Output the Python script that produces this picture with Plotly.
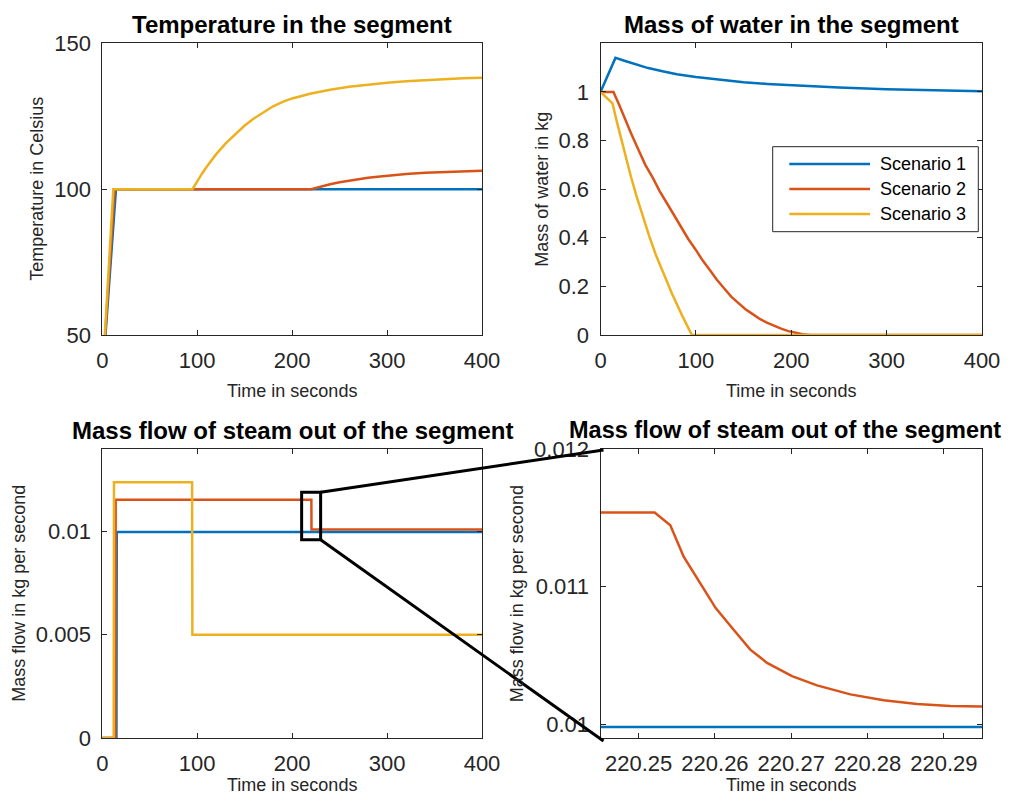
import plotly.graph_objects as go

W, H = 1016, 805          # browser window
PAGE_MARGIN = 8           # default body margin of the html page
FIG_W, FIG_H = W - 2 * PAGE_MARGIN, H - 2 * PAGE_MARGIN
COLORS = ["#0072BD", "#D95319", "#EDB120"]
scenarios = ["Scenario 1", "Scenario 2", "Scenario 3"]

# ---------------- data ----------------
# Temperature in the segment (Celsius)
temp_t1 = [0, 14.4, 400]
temp_v1 = [35, 100, 100]
temp_t2 = [0, 13.0, 220, 230, 240, 250, 260, 270, 280, 290, 300, 320, 340, 360, 380, 400]
temp_v2 = [35, 100, 100, 100.9, 101.7, 102.35, 102.9, 103.4, 103.9, 104.25, 104.6, 105.2, 105.6,
           105.9, 106.1, 106.3]
temp_t3 = [0, 11.6, 95, 100, 105, 110, 115, 120, 130, 140, 150, 160, 170, 180, 190, 200, 220, 240,
           260, 280, 300, 320, 340, 360, 380, 400]
temp_v3 = [35, 100, 100, 102.8, 105.3, 107.7, 109.9, 112.0, 115.7, 118.9, 121.8, 124.3, 126.5,
           128.4, 129.9, 131.1, 132.8, 134.1, 135.1, 135.9, 136.5, 137.0, 137.4, 137.75, 138.0, 138.2]

# Mass of water in the segment (kg)
mass_t1 = [0, 15.7, 25, 35, 50, 65, 80, 100, 125, 150, 175, 200, 250, 300, 350, 400]
mass_v1 = [1.0, 1.14, 1.128, 1.115, 1.098, 1.085, 1.073, 1.061, 1.049, 1.040, 1.033, 1.027, 1.018,
           1.011, 1.006, 1.003]
mass_t2 = [0, 13.6, 20, 25, 32, 40, 47, 55, 62, 70, 77, 85, 92, 100, 107, 115, 122, 130, 137, 145,
           152, 160, 167, 175, 182, 190, 197, 205, 212, 220, 400]
mass_v2 = [1.0, 1.0, 0.943, 0.895, 0.83, 0.76, 0.70, 0.645, 0.592, 0.54, 0.492, 0.44, 0.395, 0.35,
           0.307, 0.265, 0.227, 0.19, 0.158, 0.13, 0.106, 0.085, 0.066, 0.05, 0.037, 0.025, 0.016,
           0.008, 0.003, 0.0, 0.0]
mass_t3 = [0, 12.6, 17, 22, 27, 32, 38, 44, 51, 58, 66, 75, 85, 95.8, 400]
mass_v3 = [1.0, 0.953, 0.88, 0.80, 0.723, 0.65, 0.568, 0.49, 0.408, 0.33, 0.251, 0.17, 0.085, 0.0, 0.0]

# Mass flow of steam out of the segment (kg/s)
flow_t1 = [0, 14.9, 15.2, 400]
flow_v1 = [0, 0, 0.00998, 0.00998]
flow_t2 = [0, 13.8, 14.1, 220.2521, 220.25415, 220.2559, 220.2581, 220.2601, 220.26245, 220.26463,
           220.26683, 220.2701, 220.27338, 220.27775, 220.28211, 220.28649, 220.29085, 220.295,
           220.32, 220.4, 400]
flow_v2 = [0, 0, 0.011538, 0.011538, 0.011446, 0.011217, 0.011025, 0.010844, 0.010687, 0.010542,
           0.010446, 0.010349, 0.010282, 0.010217, 0.010174, 0.010147, 0.010132, 0.010125,
           0.010112, 0.01010, 0.01010]
flow_t3 = [0, 12.0, 12.3, 94.6, 94.9, 400]
flow_v3 = [0, 0, 0.01239, 0.01239, 0.005, 0.005]

# axis settings
x_range_main = [0, 400]
x_ticks_main = [0, 100, 200, 300, 400]
temp_range = [50, 150]
temp_ticks = [50, 100, 150]
mass_range = [0, 1.2]
mass_ticks = [0, 0.2, 0.4, 0.6, 0.8, 1]
mass_ticktext = ["0", "0.2", "0.4", "0.6", "0.8", "1"]
flow_range = [0, 0.014]
flow_ticks = [0, 0.005, 0.01]
flow_ticktext = ["0", "0.005", "0.01"]
zoom_x_range = [220.245, 220.295]
zoom_x_ticks = [220.25, 220.26, 220.27, 220.28, 220.29]
zoom_x_ticktext = ["220.25", "220.26", "220.27", "220.28", "220.29"]
zoom_y_range = [0.0099, 0.012]
zoom_y_ticks = [0.01, 0.011, 0.012]
zoom_y_ticktext = ["0.01", "0.011", "0.012"]
zoom_box_x = [210, 230]
zoom_box_y = [0.0096, 0.0119]

titles = ["Temperature in the segment", "Mass of water in the segment",
          "Mass flow of steam out of the segment", "Mass flow of steam out of the segment"]
xlabels = ["Time in seconds"] * 4
ylabels = ["Temperature in Celsius", "Mass of water in kg",
           "Mass flow in kg per second", "Mass flow in kg per second"]

# ---------------- layout geometry (window pixels) ----------------
FONT = "Liberation Sans, Arial, Helvetica, sans-serif"
TXT = "#262626"
boxes = {  # left, right, top, bottom in window pixels
    1: (102.3, 482.0, 43.3, 335.0),
    2: (600.5, 982.0, 43.3, 335.0),
    3: (102.3, 482.0, 449.0, 738.0),
    4: (600.5, 982.0, 449.0, 738.0),
}
title_dx = {1: 0, 2: 0, 3: 0, 4: -6}
title_size = {1: 24, 2: 24, 3: 24, 4: 23.5}
xlabel_dy = {1: 56.5, 2: 56.5, 3: 47, 4: 47}
ylabel_x = {1: 36.7, 2: 541.7, 3: 18.3, 4: 516.7}


def px(xp):
    return (xp - PAGE_MARGIN) / FIG_W


def py(yp):
    return 1 - (yp - PAGE_MARGIN) / FIG_H


fig = go.Figure()

series = [
    (1, [(temp_t1, temp_v1), (temp_t2, temp_v2), (temp_t3, temp_v3)]),
    (2, [(mass_t1, mass_v1), (mass_t2, mass_v2), (mass_t3, mass_v3)]),
    (3, [(flow_t1, flow_v1), (flow_t2, flow_v2), (flow_t3, flow_v3)]),
    (4, [(flow_t1, flow_v1), (flow_t2, flow_v2), (flow_t3, flow_v3)]),
]
for k, data in series:
    for i, (tx, vy) in enumerate(data):
        fig.add_trace(go.Scatter(
            x=tx, y=vy, mode="lines", name=scenarios[i], showlegend=False,
            line=dict(color=COLORS[i], width=2.5),
            xaxis="x" if k == 1 else f"x{k}", yaxis="y" if k == 1 else f"y{k}",
        ))

axis_common = dict(
    showline=True, mirror="ticks", linecolor=TXT, linewidth=1,
    ticks="inside", ticklen=5, tickwidth=1, tickcolor=TXT,
    tickfont=dict(family=FONT, size=22, color=TXT),
    showgrid=False, zeroline=False, fixedrange=True, automargin=False,
)

xcfg = {
    1: dict(range=x_range_main, tickvals=x_ticks_main),
    2: dict(range=x_range_main, tickvals=x_ticks_main),
    3: dict(range=x_range_main, tickvals=x_ticks_main),
    4: dict(range=zoom_x_range, tickvals=zoom_x_ticks, ticktext=zoom_x_ticktext),
}
ycfg = {
    1: dict(range=temp_range, tickvals=temp_ticks),
    2: dict(range=mass_range, tickvals=mass_ticks, ticktext=mass_ticktext),
    3: dict(range=flow_range, tickvals=flow_ticks, ticktext=flow_ticktext),
    4: dict(range=zoom_y_range, tickvals=zoom_y_ticks, ticktext=zoom_y_ticktext),
}

layout = dict(
    width=FIG_W, height=FIG_H, margin=dict(l=0, r=0, t=0, b=0, autoexpand=False),
    paper_bgcolor="white", plot_bgcolor="white", showlegend=False,
)
annotations = []
shapes = []
for k in range(1, 5):
    l, r, t, b = boxes[k]
    xn = "xaxis" if k == 1 else f"xaxis{k}"
    yn = "yaxis" if k == 1 else f"yaxis{k}"
    xa = "x" if k == 1 else f"x{k}"
    ya = "y" if k == 1 else f"y{k}"
    layout[xn] = dict(axis_common, domain=[px(l), px(r)], anchor=ya, ticklabelstandoff=6, **xcfg[k])
    layout[yn] = dict(axis_common, domain=[py(b), py(t)], anchor=xa, ticklabelstandoff=6, **ycfg[k])
    cx = (l + r) / 2
    cy = (t + b) / 2
    annotations.append(dict(text=titles[k - 1], x=px(cx + title_dx[k]), y=py(t - 19), xref="paper",
                            yref="paper", showarrow=False, xanchor="center", yanchor="middle",
                            font=dict(family=FONT, size=title_size[k], color="black", weight="bold")))
    annotations.append(dict(text=xlabels[k - 1], x=px(cx), y=py(b + xlabel_dy[k]), xref="paper",
                            yref="paper", showarrow=False, xanchor="center", yanchor="middle",
                            borderpad=0, font=dict(family=FONT, size=18, color=TXT)))
    annotations.append(dict(text=ylabels[k - 1], x=px(ylabel_x[k]), y=py(cy), xref="paper", yref="paper",
                            showarrow=False, xanchor="center", yanchor="middle", textangle=-90,
                            font=dict(family=FONT, size=18, color=TXT)))

# custom legend in the mass-of-water panel
leg_l, leg_r, leg_t, leg_b = 772.7, 978.3, 146.7, 231.7
shapes.append(dict(type="rect", xref="paper", yref="paper", x0=px(leg_l), x1=px(leg_r),
                   y0=py(leg_b), y1=py(leg_t), line=dict(color=TXT, width=1), fillcolor="white",
                   layer="above"))
for i, name in enumerate(scenarios):
    yy = 164 + i * 25
    shapes.append(dict(type="line", xref="paper", yref="paper", x0=px(789.3), x1=px(870),
                       y0=py(yy), y1=py(yy), line=dict(color=COLORS[i], width=2.5), layer="above"))
    annotations.append(dict(text=name, x=px(878.3), y=py(yy), xref="paper", yref="paper",
                            showarrow=False, xanchor="left", yanchor="middle",
                            font=dict(family=FONT, size=18, color="black")))

# zoom indicator box and connectors
shapes.append(dict(type="rect", xref="x3", yref="y3", x0=zoom_box_x[0], x1=zoom_box_x[1],
                   y0=zoom_box_y[0], y1=zoom_box_y[1], line=dict(color="black", width=3), layer="above"))


def to_pixels(k, xv, yv, xr, yr):
    l, r, t, b = boxes[k]
    xpix = l + (xv - xr[0]) / (xr[1] - xr[0]) * (r - l)
    ypix = b - (yv - yr[0]) / (yr[1] - yr[0]) * (b - t)
    return xpix, ypix


c_top = to_pixels(3, zoom_box_x[1], zoom_box_y[1], x_range_main, flow_range)
c_bot = to_pixels(3, zoom_box_x[1], zoom_box_y[0], x_range_main, flow_range)
l4, r4, t4, b4 = boxes[4]
shapes.append(dict(type="line", xref="paper", yref="paper", x0=px(c_top[0]), y0=py(c_top[1]),
                   x1=px(l4 + 3), y1=py(t4 + 1), line=dict(color="black", width=3), layer="above"))
shapes.append(dict(type="line", xref="paper", yref="paper", x0=px(c_bot[0]), y0=py(c_bot[1]),
                   x1=px(l4 + 3), y1=py(b4 + 3), line=dict(color="black", width=3), layer="above"))

layout["annotations"] = annotations
layout["shapes"] = shapes
fig.update_layout(**layout)
fig.write_html("out.html")
